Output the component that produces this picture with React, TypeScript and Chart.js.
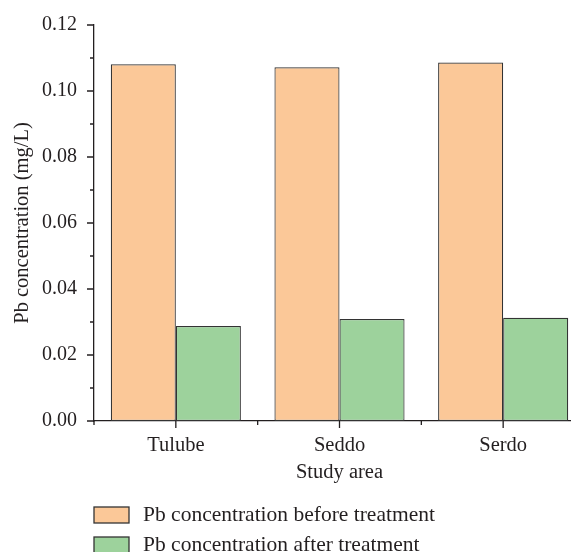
import React, { useEffect, useRef } from 'react';
import { Chart, registerables } from 'chart.js';

Chart.register(...registerables);

const categories = ['Tulube', 'Seddo', 'Serdo'];
const beforeTreatment = [0.1081, 0.1072, 0.1086];
const afterTreatment = [0.0288, 0.0309, 0.0313];
const seriesLabels = ['Pb concentration before treatment', 'Pb concentration after treatment'];
const seriesColors = ['#FBC898', '#9DD29C'];
const yMin = 0;
const yMax = 0.12;
const yMajorStep = 0.02;
const yMinorStep = 0.01;
const yTitle = 'Pb concentration (mg/L)';
const xTitle = 'Study area';

const FONT = '"Liberation Serif", "Times New Roman", serif';
const AXIS = '#231F20';
const TEXT = '#231F20';

const axisTicksPlugin = {
  id: 'axisTicks',
  afterDraw(chart: any) {
    const ctx = chart.ctx;
    const ys = chart.scales.y;
    const xs = chart.scales.x;
    const area = chart.chartArea;
    ctx.save();
    ctx.strokeStyle = AXIS;
    ctx.lineWidth = 1.3;
    ctx.beginPath();
    const n = Math.round((yMax - yMin) / yMinorStep);
    for (let i = 0; i <= n; i++) {
      const py = ys.getPixelForValue(yMin + i * yMinorStep);
      const len = i % 2 === 0 ? 7 : 4;
      ctx.moveTo(area.left - len, py);
      ctx.lineTo(area.left, py);
    }
    for (let i = 0; i < categories.length; i++) {
      const px = xs.getPixelForValue(i);
      ctx.moveTo(px, area.bottom);
      ctx.lineTo(px, area.bottom + 7);
    }
    for (let i = 0; i <= categories.length; i++) {
      const px = xs.getPixelForValue(i - 0.5);
      ctx.moveTo(px, area.bottom);
      ctx.lineTo(px, area.bottom + 4);
    }
    ctx.stroke();
    ctx.restore();
  },
};

const legendPlugin = {
  id: 'customLegend',
  afterDraw(chart: any) {
    const ctx = chart.ctx;
    const area = chart.chartArea;
    ctx.save();
    ctx.font = `21.5px ${FONT}`;
    ctx.textBaseline = 'middle';
    chart.data.datasets.forEach((ds: any, i: number) => {
      const top = area.bottom + 86 + i * 30;
      const left = area.left;
      ctx.fillStyle = ds.backgroundColor;
      ctx.fillRect(left, top, 35, 16);
      ctx.strokeStyle = '#333';
      ctx.lineWidth = 1.3;
      ctx.strokeRect(left, top, 35, 16);
      ctx.fillStyle = TEXT;
      ctx.fillText(ds.label, left + 49, top + 8.5);
    });
    ctx.restore();
  },
};

export default function App() {
  const ref = useRef<HTMLCanvasElement | null>(null);

  useEffect(() => {
    if (!ref.current) return;
    const chart = new Chart(ref.current, {
      type: 'bar',
      data: {
        labels: categories,
        datasets: [
          {
            label: seriesLabels[0],
            data: beforeTreatment,
            backgroundColor: seriesColors[0],
            borderColor: '#333',
            borderWidth: 1.2,
            borderSkipped: false,
          },
          {
            label: seriesLabels[1],
            data: afterTreatment,
            backgroundColor: seriesColors[1],
            borderColor: '#333',
            borderWidth: 1.2,
            borderSkipped: false,
          },
        ],
      },
      options: {
        responsive: false,
        animation: false,
        devicePixelRatio: 1,
        layout: { autoPadding: false, padding: { top: 17, left: 0, right: 0, bottom: 66 } },
        datasets: { bar: { categoryPercentage: 0.795, barPercentage: 1 } },
        plugins: {
          legend: { display: false },
          tooltip: { enabled: false },
        },
        scales: {
          x: {
            offset: true,
            grid: { display: false, drawTicks: false },
            border: { display: true, color: AXIS, width: 1.3 },
            ticks: { color: TEXT, font: { family: FONT, size: 20.5 }, padding: 12 },
            title: { display: true, text: xTitle, color: TEXT, font: { family: FONT, size: 20.5 }, padding: { top: 0, bottom: 1 } },
            afterFit: (s: any) => { s.height = 65; s.paddingLeft = 0; s.paddingRight = 0; },
          },
          y: {
            min: yMin,
            max: yMax,
            grid: { display: false, drawTicks: false },
            border: { display: true, color: AXIS, width: 1.3 },
            ticks: {
              stepSize: yMajorStep,
              color: TEXT,
              font: { family: FONT, size: 20 },
              padding: 17,
              callback: (v: any) => Number(v).toFixed(2),
            },
            title: { display: true, text: yTitle, color: TEXT, font: { family: FONT, size: 20.5 }, padding: { top: 2, bottom: 0 } },
            afterFit: (s: any) => { s.width = 86; s.paddingTop = 0; s.paddingBottom = 0; },
          },
        },
      },
      plugins: [axisTicksPlugin, legendPlugin],
    });
    return () => chart.destroy();
  }, []);

  return (
    <div style={{ width: 571, height: 544, overflow: 'hidden' }}>
      <canvas ref={ref} width={577} height={544} style={{ display: 'block' }} />
    </div>
  );
}
